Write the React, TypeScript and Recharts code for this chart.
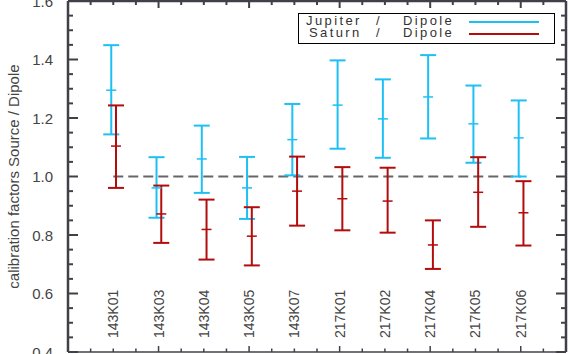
import React from "react";
import {
  ScatterChart,
  Scatter,
  ErrorBar,
  XAxis,
  YAxis,
  ReferenceLine,
  Legend,
} from "recharts";

const categories = ["143K01", "143K03", "143K04", "143K05", "143K07", "217K01", "217K02", "217K04", "217K05", "217K06"];

const jupiterMid = [1.295, 0.961, 1.06, 0.961, 1.126, 1.244, 1.197, 1.272, 1.18, 1.132];
const jupiterLow = [1.144, 0.859, 0.944, 0.855, 1.004, 1.095, 1.064, 1.13, 1.047, 1.0];
const jupiterHigh = [1.449, 1.066, 1.174, 1.067, 1.248, 1.397, 1.332, 1.415, 1.311, 1.26];

const saturnMid = [1.104, 0.872, 0.819, 0.796, 0.95, 0.924, 0.916, 0.766, 0.946, 0.876];
const saturnLow = [0.961, 0.773, 0.716, 0.696, 0.832, 0.816, 0.808, 0.684, 0.828, 0.764];
const saturnHigh = [1.243, 0.969, 0.921, 0.895, 1.068, 1.032, 1.03, 0.85, 1.066, 0.984];

const yTicks = [0.4, 0.45, 0.5, 0.55, 0.6, 0.65, 0.7, 0.75, 0.8, 0.85, 0.9, 0.95, 1.0, 1.05, 1.1, 1.15, 1.2, 1.25, 1.3, 1.35, 1.4, 1.45, 1.5, 1.55, 1.6];
const xTicks = [0, 0.5, 1, 1.5, 2, 2.5, 3, 3.5, 4, 4.5, 5, 5.5, 6, 6.5, 7, 7.5, 8, 8.5, 9, 9.5, 10, 10.5, 11];

const JUP = "#1ec0f4";
const SAT = "#b20c0c";
const AXIS = "#404048";
const AW = 2.5;
const TXT = "#444";
const FONT = "'Liberation Sans', Arial, sans-serif";

const series = [
  { name: "Jupiter", color: JUP },
  { name: "Saturn", color: SAT },
];

const jupiterData = categories.map((c, i) => ({
  x: i + 1 - 0.045,
  y: jupiterMid[i],
  err: [jupiterMid[i] - jupiterLow[i], jupiterHigh[i] - jupiterMid[i]],
}));
const saturnData = categories.map((c, i) => ({
  x: i + 1 + 0.06,
  y: saturnMid[i],
  err: [saturnMid[i] - saturnLow[i], saturnHigh[i] - saturnMid[i]],
}));

const isMajorY = (v: number) => Math.abs(v * 5 - Math.round(v * 5)) < 1e-6;
const isMajorX = (v: number) => Math.abs(v / 2 - Math.round(v / 2)) < 1e-6;

// ticks point into the plot, like the IDL frame of the original
const LeftTick = (props: any) => {
  const { x, y, payload } = props;
  const major = isMajorY(payload.value);
  return (
    <g>
      <path d={`M${x},${y}h${major ? 10 : 5}`} stroke={AXIS} strokeWidth={2} fill="none" />
      {major && (
        <text x={x - 15} y={y} textAnchor="end" dominantBaseline="central" fontSize={15} fill={TXT} fontFamily={FONT}>
          {payload.value.toFixed(1)}
        </text>
      )}
    </g>
  );
};

const RightTick = (props: any) => {
  const { x, y, payload } = props;
  const major = isMajorY(payload.value);
  return <path d={`M${x},${y}h${-(major ? 10 : 5)}`} stroke={AXIS} strokeWidth={2} fill="none" />;
};

const BottomTick = (props: any) => {
  const { x, y, payload } = props;
  const v = payload.value;
  const label = Number.isInteger(v) && v >= 1 && v <= categories.length ? categories[v - 1] : null;
  return (
    <g>
      <path d={`M${x},${y}v${-(isMajorX(v) ? 6 : 3.5)}`} stroke={AXIS} strokeWidth={1.5} fill="none" />
      {label && (
        <text
          x={x}
          y={y - 14}
          transform={`rotate(-90, ${x}, ${y - 14})`}
          textAnchor="start"
          dominantBaseline="central"
          fontSize={14}
          fill={TXT}
          fontFamily={FONT}
        >
          {label}
        </text>
      )}
    </g>
  );
};

const TopTick = (props: any) => {
  const { x, y, payload } = props;
  return <path d={`M${x},${y}v${isMajorX(payload.value) ? 7 : 4}`} stroke={AXIS} strokeWidth={2} fill="none" />;
};

const YLabel = (props: any) => {
  const vb = props.viewBox;
  const cx = vb.x + 13;
  const cy = vb.y + vb.height / 2;
  return (
    <text
      x={cx}
      y={cy}
      transform={`rotate(-90, ${cx}, ${cy})`}
      textAnchor="middle"
      dominantBaseline="central"
      fontSize={15}
      fill={TXT}
      fontFamily={FONT}
    >
      calibration factors Source / Dipole
    </text>
  );
};

const MidMark = (color: string) => (p: any) => (
  <line x1={p.cx - 5} x2={p.cx + 5} y1={p.cy} y2={p.cy} stroke={color} strokeWidth={1.5} />
);

const LegendBox = () => (
  <div
    style={{
      width: 257,
      height: 31,
      border: "1px solid #000",
      boxSizing: "border-box",
      background: "#fff",
      position: "relative",
      fontFamily: FONT,
      fontSize: 13,
      letterSpacing: 2.4,
      color: "#333",
    }}
  >
    {series.map((s, i) => (
      <div key={s.name} style={{ position: "absolute", top: 1 + i * 12, left: 0, height: 12, width: "100%", lineHeight: "12px" }}>
        <span style={{ position: "absolute", left: i === 0 ? 7 : 10 }}>{s.name}</span>
        <span style={{ position: "absolute", left: 77 }}>/</span>
        <span style={{ position: "absolute", left: 104 }}>Dipole</span>
        <span style={{ position: "absolute", left: 170, top: 6, width: 70, height: 1.5, background: s.color }} />
      </div>
    ))}
  </div>
);

export default function App() {
  return (
    <div style={{ position: "absolute", left: 0, top: 0, width: 568, height: 354, background: "#fff" }}>
      <ScatterChart width={568} height={354} margin={{ top: 0, right: 1, bottom: 1, left: 0 }}>
        <XAxis
          xAxisId="b"
          dataKey="x"
          type="number"
          orientation="bottom"
          domain={[0, 11]}
          ticks={xTicks}
          interval={0}
          height={1}
          tickSize={0}
          tickMargin={0}
          tickLine={false}
          tick={BottomTick}
          axisLine={{ stroke: AXIS, strokeWidth: 1.5 }}
          allowDataOverflow
        />
        <XAxis
          xAxisId="t"
          dataKey="x"
          type="number"
          orientation="top"
          domain={[0, 11]}
          ticks={xTicks}
          interval={0}
          height={1}
          tickSize={0}
          tickMargin={0}
          tickLine={false}
          tick={TopTick}
          axisLine={{ stroke: AXIS, strokeWidth: AW }}
          allowDataOverflow
        />
        <YAxis
          yAxisId="l"
          type="number"
          orientation="left"
          domain={[0.4, 1.6]}
          ticks={yTicks}
          interval={0}
          width={68}
          tickSize={0}
          tickMargin={0}
          tickLine={false}
          tick={LeftTick}
          axisLine={{ stroke: AXIS, strokeWidth: AW }}
          label={YLabel}
          allowDataOverflow
        />
        <YAxis
          yAxisId="r"
          type="number"
          orientation="right"
          domain={[0.4, 1.6]}
          ticks={yTicks}
          interval={0}
          width={1}
          tickSize={0}
          tickMargin={0}
          tickLine={false}
          tick={RightTick}
          axisLine={{ stroke: AXIS, strokeWidth: AW }}
          allowDataOverflow
        />
        <ReferenceLine
          xAxisId="b"
          yAxisId="l"
          segment={[{ x: 1, y: 1 }, { x: categories.length, y: 1 }]}
          stroke="#666"
          strokeWidth={2}
          strokeDasharray="10 5"
        />
        {/* empty series so the top and right frame axes get drawn */}
        <Scatter name="frame" data={[]} dataKey="y" xAxisId="t" yAxisId="r" isAnimationActive={false} legendType="none" />
        <Scatter
          name="Jupiter / Dipole"
          data={jupiterData}
          dataKey="y"
          xAxisId="b"
          yAxisId="l"
          fill={JUP}
          shape={MidMark(JUP)}
          isAnimationActive={false}
        >
          <ErrorBar dataKey="err" direction="y" width={8} stroke={JUP} strokeWidth={2} isAnimationActive={false} />
        </Scatter>
        <Scatter
          name="Saturn / Dipole"
          data={saturnData}
          dataKey="y"
          xAxisId="b"
          yAxisId="l"
          fill={SAT}
          shape={MidMark(SAT)}
          isAnimationActive={false}
        >
          <ErrorBar dataKey="err" direction="y" width={8} stroke={SAT} strokeWidth={2} isAnimationActive={false} />
        </Scatter>
        <Legend
          layout="horizontal"
          verticalAlign="middle"
          align="center"
          content={LegendBox}
          wrapperStyle={{ top: 13, left: 298, width: 257 }}
        />
      </ScatterChart>
    </div>
  );
}
